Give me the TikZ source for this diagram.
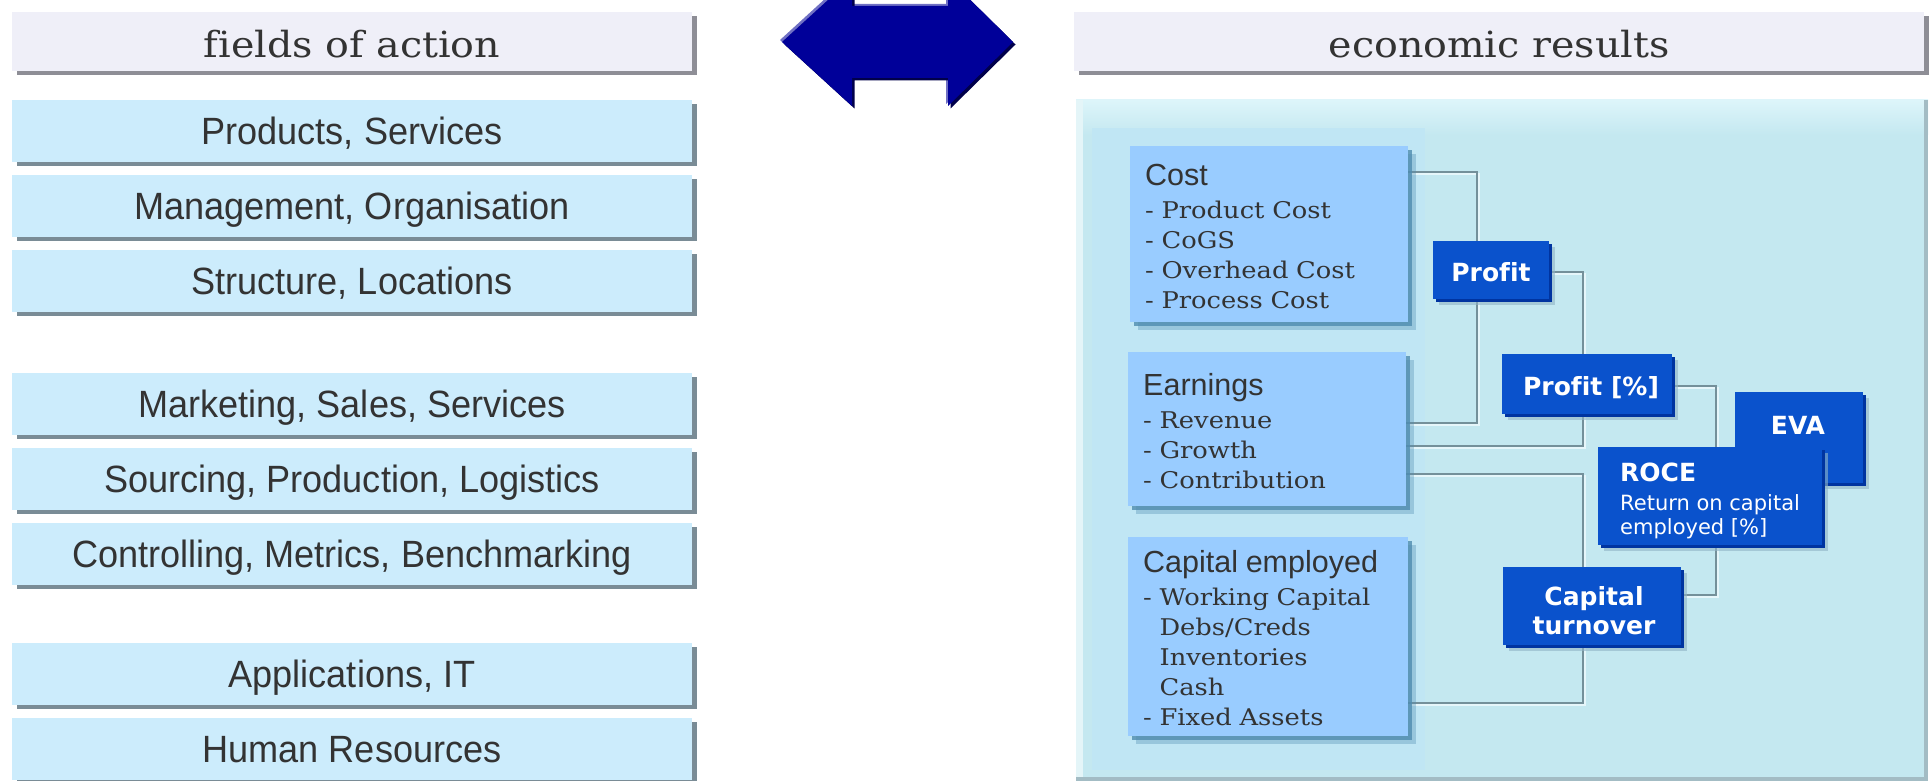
\documentclass[tikz,border=0pt]{standalone}
\usepackage{fontspec}
\setmainfont{DejaVu Serif}
\newfontfamily\hdrfont[FakeStretch=1.1]{DejaVu Serif}
\newfontfamily\itemfont[FakeStretch=1.12]{DejaVu Serif}
\newfontfamily\fieldfont[FakeStretch=0.95]{Liberation Sans}
\newfontfamily\titlefont{Liberation Sans}
\newfontfamily\kpifont{DejaVu Sans}
\usetikzlibrary{shadows,calc}
\pgfdeclarelayer{back}
\pgfdeclarelayer{lines}
\pgfsetlayers{back,lines,main}
\definecolor{headfill}{HTML}{EFEFF8}
\definecolor{headshadow}{HTML}{8E8E96}
\definecolor{fieldfill}{HTML}{CCECFC}
\definecolor{fieldshadow}{HTML}{7A8C96}
\definecolor{txtgray}{HTML}{333333}
\definecolor{arrowblue}{HTML}{000099}
\definecolor{arrowhi}{HTML}{7070C4}
\definecolor{arrowdark}{HTML}{00004A}
\definecolor{panelfill}{HTML}{C4E8F0}
\definecolor{panellight}{HTML}{DDF5FA}
\definecolor{paneltint}{HTML}{C0E6F4}
\definecolor{paneledge}{HTML}{A3BCC4}
\definecolor{costfill}{HTML}{99CCFF}
\definecolor{innershadow}{HTML}{4F8CB0}
\definecolor{kpiblue}{HTML}{0A52CC}
\definecolor{kpidark}{HTML}{0034A0}
\definecolor{kpihalo}{HTML}{8FB3C6}
\definecolor{linecol}{HTML}{74909A}
\definecolor{linelight}{HTML}{E6F6FA}
\newcommand\dblarrowpath{(782,42) -- (852,-22) -- (852,6) -- (948,6) -- (948,-22) -- (1013,42) -- (948,106) -- (948,78) -- (852,78) -- (852,106) -- cycle}
\newcommand\myconnector[2]{%
  \draw[connlight,transform canvas={shift={(2.5pt,-2.5pt)}}] #1 -| #2;
  \draw[conn] #1 -| #2;}
\tikzset{
  headbox/.style={fill=headfill, minimum width=680pt, minimum height=59pt, inner sep=0pt,
    drop shadow={shadow xshift=5pt,shadow yshift=-4pt,fill=headshadow,opacity=1}},
  fieldbox/.style={fill=fieldfill, minimum width=680pt, minimum height=62pt, inner sep=0pt,
    text=txtgray, font=\fieldfont\fontsize{38}{44}\selectfont, text height=27pt, text depth=0pt,
    drop shadow={shadow xshift=5pt,shadow yshift=-4pt,fill=fieldshadow,opacity=1}},
  headtext/.style={inner sep=0pt, text=txtgray, font=\hdrfont\fontsize{36}{40}\selectfont, anchor=base},
  innerbox/.style={fill=costfill, inner sep=0pt,
    drop shadow={shadow xshift=8pt,shadow yshift=-8pt,fill=innershadow,opacity=.35},
    drop shadow={shadow xshift=4pt,shadow yshift=-4pt,fill=innershadow,opacity=.8}},
  innertext/.style={anchor=base west, inner sep=0pt, text width=262pt, align=left,
    text=txtgray, font=\itemfont\fontsize{23}{30}\selectfont},
  kpibox/.style={fill=kpiblue, inner sep=0pt,
    drop shadow={shadow xshift=6pt,shadow yshift=-6pt,fill=kpihalo,opacity=.6},
    drop shadow={shadow xshift=3pt,shadow yshift=-3pt,fill=kpidark,opacity=1}},
  kpitext/.style={inner sep=0pt, text=white, font=\kpifont\bfseries\fontsize{25}{29}\selectfont, anchor=base},
  kpismall/.style={inner sep=0pt, text=white, font=\kpifont\fontsize{21}{24}\selectfont, anchor=base west},
  conn/.style={draw=linecol, line width=2pt},
  connlight/.style={draw=linelight, line width=2pt}
}
\begin{document}
\begin{tikzpicture}[x=1pt,y=-1pt]
\useasboundingbox (0,0) rectangle (1932,781);
\clip (0,0) rectangle (1932,781);

% ---------- left column ----------
\node[headbox] (lhead) at (352,42) {};
\node[headtext] (lheadtxt) at (352,58) {f\kern0pt ields of action};

\node[fieldbox] (f1) at (352,131) {Products, Services};
\node[fieldbox] (f2) at (352,206) {Management, Organisation};
\node[fieldbox] (f3) at (352,281) {Structure, Locations};
\node[fieldbox] (f4) at (352,404) {Marketing, Sales, Services};
\node[fieldbox] (f5) at (352,479) {Sourcing, Production, Logistics};
\node[fieldbox] (f6) at (352,554) {Controlling, Metrics, Benchmarking};
\node[fieldbox] (f7) at (352,674) {Applications, IT};
\node[fieldbox] (f8) at (352,749) {Human Resources};

% ---------- double arrow ----------
\fill[arrowhi,shift={(-2,-2)}] \dblarrowpath;
\fill[arrowdark,shift={(2.5,2.5)}] \dblarrowpath;
\fill[arrowblue] \dblarrowpath;

% ---------- right header ----------
\node[headbox, minimum width=850pt] (rhead) at (1499,42) {};
\node[headtext] (rheadtxt) at (1499,58) {economic results};

% ---------- panel ----------
\begin{pgfonlayer}{back}
\fill[panelfill] (1076,100) rectangle (1928,781);
\shade[top color=panellight, bottom color=panelfill] (1076,100) rectangle (1928,135);
\fill[paneltint] (1092,128) rectangle (1425,770);
\fill[white!55!panelfill] (1076,100) rectangle (1083,781);
\fill[paneledge] (1924,100) rectangle (1928,781);
\fill[paneledge] (1076,777) rectangle (1928,781);
\end{pgfonlayer}

% ---------- inner boxes ----------
\node[innerbox, minimum width=278pt, minimum height=176pt] (cost) at (1269,234) {};
\node[innerbox, minimum width=278pt, minimum height=154pt] (earn) at (1267,429) {};
\node[innerbox, minimum width=280pt, minimum height=199pt] (cap) at (1268,636.5) {};

\node[innertext] (costtxt) at (1145,185)
  {{\titlefont\fontsize{30.5}{36}\selectfont Cost}\\[3pt]
   - Product Cost\\ - CoGS\\ - Overhead Cost\\ - Process Cost};
\node[innertext] (earntxt) at (1143,395)
  {{\titlefont\fontsize{30.5}{36}\selectfont Earnings}\\[3pt]
   - Revenue\\ - Growth\\ - Contribution};
\node[innertext] (captxt) at (1143,572)
  {{\titlefont\fontsize{30.5}{36}\selectfont Capital employed}\\[3pt]
   - Working Capital\\ \hphantom{-~}Debs/Creds\\ \hphantom{-~}Inventories\\ \hphantom{-~}Cash\\ - Fixed Assets};

% ---------- KPI boxes ----------
\node[kpibox, minimum width=116pt, minimum height=58pt] (profit) at (1491,270) {};
\node[kpibox, minimum width=170pt, minimum height=60pt] (pct) at (1587,384) {};
\node[kpibox, minimum width=128pt, minimum height=91pt] (eva) at (1799,437.5) {};
\node[kpibox, minimum width=224pt, minimum height=98pt] (roce) at (1710,496) {};
\node[kpibox, minimum width=178pt, minimum height=78pt] (ct) at (1592,606) {};

\node[kpitext] (profittxt) at (1491,281) {Prof\kern0pt it};
\node[kpitext] (pcttxt) at (1591,395) {Prof\kern0pt it [\%]};
\node[kpitext] (evatxt) at (1798,434) {EVA};
\node[kpitext, anchor=base west] (rocetxt) at (1620,481) {ROCE};
\node[kpismall] (roce1) at (1620,510) {Return on capital};
\node[kpismall] (roce2) at (1620,534) {employed [\%]};
\node[kpitext] (cttxt1) at (1594,605) {Capital};
\node[kpitext] (cttxt2) at (1594,634) {turnover};

% ---------- connectors ----------
\begin{pgfonlayer}{lines}
\myconnector{($(cost.north east)+(0,26)$)}{($(profit.north west)+(44,0)$)}
\myconnector{($(earn.north east)+(0,71)$)}{($(profit.south west)+(44,0)$)}
\myconnector{($(profit.north east)+(0,31)$)}{($(pct.north west)+(81,0)$)}
\myconnector{($(earn.north east)+(0,94)$)}{($(pct.south west)+(81,0)$)}
\myconnector{($(earn.north east)+(0,122)$)}{($(ct.north west)+(80,0)$)}
\myconnector{($(cap.north east)+(0,166)$)}{($(ct.south west)+(80,0)$)}
\myconnector{($(pct.north east)+(0,32)$)}{($(roce.north west)+(118,0)$)}
\myconnector{($(ct.north east)+(0,28)$)}{($(roce.south west)+(118,0)$)}
\end{pgfonlayer}
\end{tikzpicture}
\end{document}
